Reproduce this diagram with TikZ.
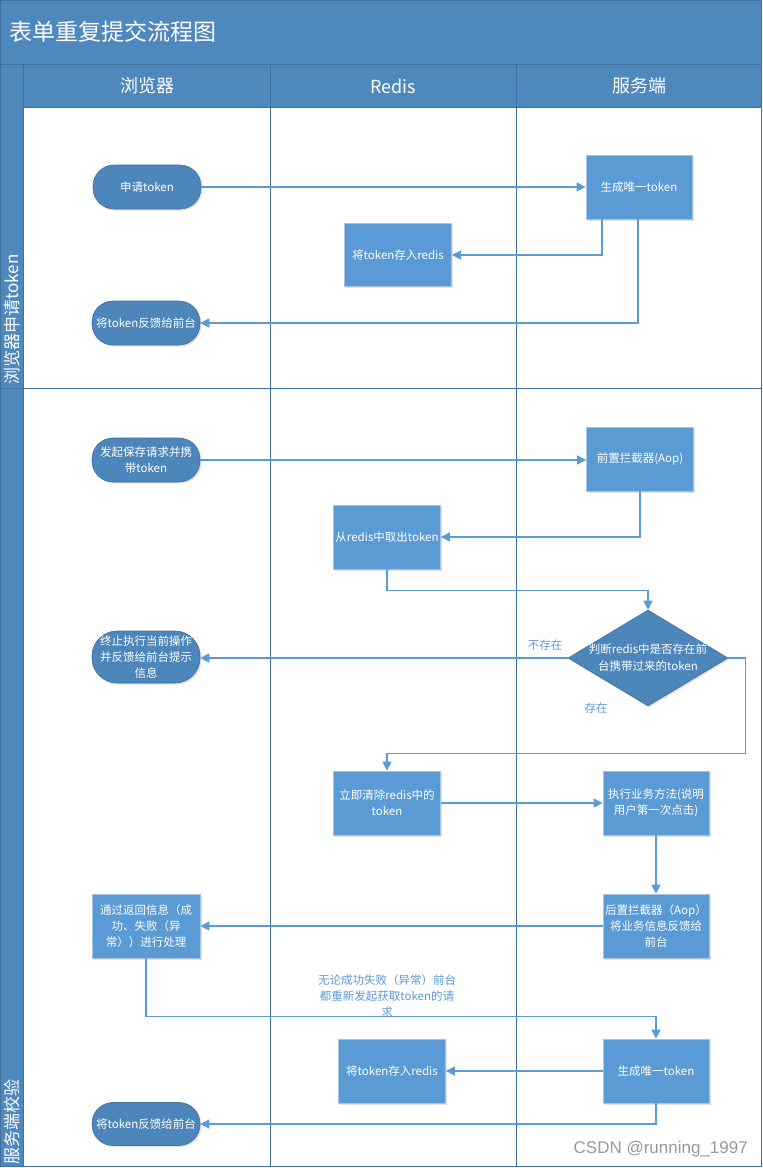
\documentclass[tikz,border=0pt]{standalone}
\usepackage{fontspec}
\newfontfamily\cjk{Noto Sans CJK SC}
\newfontfamily\wmfont{Liberation Sans}
\usetikzlibrary{arrows.meta,shapes.geometric,shadows}
\definecolor{bandc}{HTML}{4F88BD}
\definecolor{linec}{HTML}{41719C}
\definecolor{procc}{HTML}{5B9BD5}
\definecolor{termc}{HTML}{4C86BA}
\definecolor{procb}{HTML}{A9C3E0}
\definecolor{conc}{HTML}{5B9BD5}
\tikzset{
  lane/.style={draw=linec,line width=1pt},
  txt/.style={font=\cjk\fontsize{11.5}{16}\selectfont,text=white,align=center,inner sep=0pt},
  shad/.style={drop shadow={shadow xshift=1.5pt,shadow yshift=-1.5pt,opacity=0.2,fill=black!60}},
  proc/.style={txt,rectangle,fill=procc,draw=procb,line width=0.8pt,minimum width=107pt,minimum height=64pt,shad},
  term/.style={txt,rectangle,rounded corners=21pt,fill=termc,draw=linec,line width=0.6pt,minimum width=108pt,minimum height=44pt,shad},
  decis/.style={diamond,fill=termc,draw=linec,line width=0.6pt,minimum width=160pt,minimum height=96pt,inner sep=0pt,shad},
  con/.style={draw=conc,line width=1.2pt,-{Triangle[length=9pt,width=9pt]}},
  note/.style={font=\cjk\fontsize{11.5}{16}\selectfont,text=conc,align=center,inner sep=0pt},
  phase/.style={font=\cjk\fontsize{17}{20}\selectfont,text=white,rotate=90,anchor=west,inner sep=0pt},
  head/.style={font=\cjk\fontsize{18}{20}\selectfont,text=white,inner sep=0pt}
}
\begin{document}
\begin{tikzpicture}[x=1pt,y=-1pt]
\useasboundingbox (0,0) rectangle (763,1168);
% backgrounds
\fill[white] (0,0) rectangle (763,1168);
\fill[bandc] (0,0) rectangle (762,64);
\fill[bandc] (0,64) rectangle (762,107);
\fill[bandc] (0,64) rectangle (23,1167);
% lane lines
\draw[lane] (0,0.5) -- (762,0.5);
\draw[lane] (0,64) -- (762,64);
\draw[lane] (23,107) -- (762,107);
\draw[lane] (0,388) -- (762,388);
\draw[lane] (23,64) -- (23,1167);
\draw[lane] (270,64) -- (270,1167);
\draw[lane] (516,64) -- (516,1167);
\draw[lane] (761.5,0) -- (761.5,1167);
\draw[lane] (0.5,0) -- (0.5,1167);
\draw[lane] (0,1166.5) -- (762,1166.5);
% title and headers
\node[font=\cjk\fontsize{23}{26}\selectfont,text=white,anchor=west,inner sep=0pt] (title) at (9,32) {表单重复提交流程图};
\node[head] (h1) at (147,86) {浏览器};
\node[head] (h2) at (393,86) {Redis};
\node[head] (h3) at (639,86) {服务端};
\node[phase] (ph1) at (12,385) {浏览器申请token};
\node[phase] (ph2) at (12,1165) {服务端校验};
% phase 1
\node[term] (t1) at (147,187) {申请token};
\node[proc,minimum width=106pt] (p1) at (639,187) {生成唯一token};
\node[proc,minimum height=63pt] (r1) at (398,255) {将token存入redis};
\node[term] (t2) at (146,323) {将token反馈给前台};
% phase 2
\node[term] (t3) at (146,460) {发起保存请求并携\\带token};
\node[proc] (p2) at (640,459) {前置拦截器(Aop)};
\node[proc] (r2) at (387,537) {从redis中取出token};
\node[decis,label={[txt,font=\cjk\fontsize{11.5}{17}\selectfont]center:判断redis中是否存在前\\台携带过来的token}] (dec) at (648,658) {};
\node[term,minimum height=52pt,rounded corners=25pt] (t4) at (146,657) {终止执行当前操作\\并反馈给前台提示\\信息};
\node[proc] (r3) at (387,803) {立即清除redis中的\\token};
\node[proc,minimum width=106pt] (p3) at (656,803) {执行业务方法(说明\\用户第一次点击)};
\node[proc,minimum width=106pt] (p4) at (656,926) {后置拦截器（Aop）\\将业务信息反馈给\\前台};
\node[proc,minimum width=108pt] (r4) at (146,926) {通过返回信息（成\\功、失败（异\\常））进行处理};
\node[proc,minimum width=106pt] (p5) at (656,1071) {生成唯一token};
\node[proc] (r5) at (392,1071) {将token存入redis};
\node[term,minimum height=43pt] (t6) at (146,1124) {将token反馈给前台};
% labels
\node[note] (l1) at (545,645) {不存在};
\node[note] (l2) at (596,708) {存在};
\node[note] (l3) at (387,996) {无论成功失败（异常）前台\\都重新发起获取token的请\\求};
\node[font=\wmfont\fontsize{17}{20}\selectfont,text=black!40,anchor=east,inner sep=0pt] (wm) at (748,1149) {CSDN @running\_1997};
% connectors
\draw[con] (t1.east) -- (p1.west);
\draw[con] ([xshift=-37pt]p1.south) |- (r1.east);
\draw[con] ([xshift=-1pt]p1.south) |- (t2.east);
\draw[con] (t3.east) -- (t3.east -| p2.west);
\draw[con] (p2.south) |- (r2.east);
\draw[con] (r2.south) |- ([yshift=19pt]dec.north) -- (dec.north);
\draw[con] (dec.west) -- (dec.west -| t4.east);
\draw[con] (dec.east) -- ([xshift=17pt]dec.east) |- ([yshift=17pt]r3.north) -- (r3.north);
\draw[con] (r3.east) -- (p3.west);
\draw[con] (p3.south) -- (p4.north);
\draw[con] (p4.west) -- (r4.east);
\draw[con] (r4.south) |- ([yshift=22pt]p5.north) -- (p5.north);
\draw[con] (p5.west) -- (r5.east);
\draw[con] (p5.south) |- (t6.east);
\end{tikzpicture}
\end{document}
